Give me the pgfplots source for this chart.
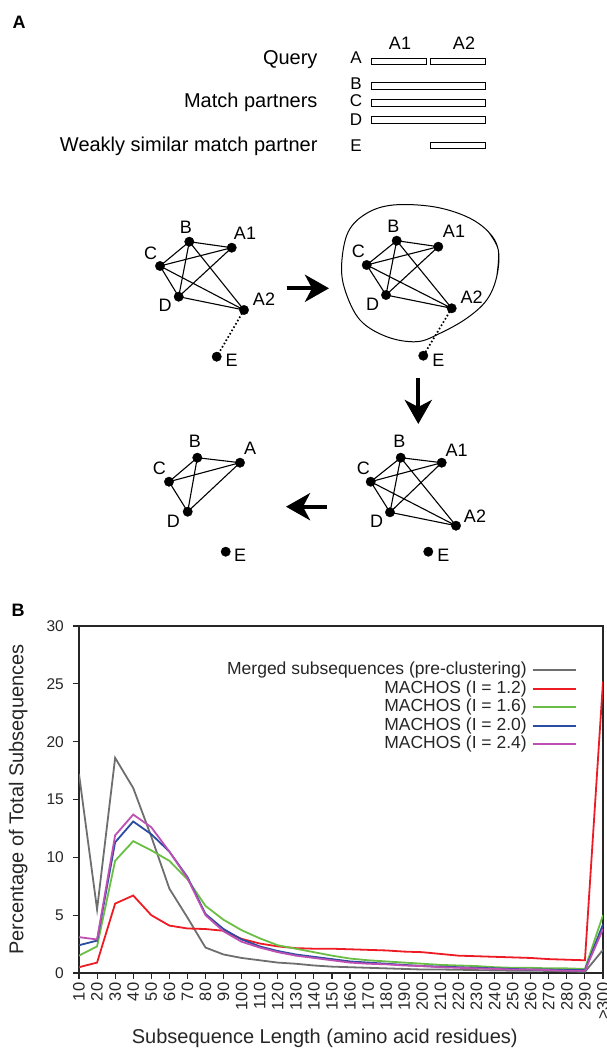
\documentclass[border=0pt]{standalone}
\usepackage{pgfplots}
\pgfplotsset{compat=1.18}
\usepackage{pgfplotstable}
\usepackage{fontspec}
\setmainfont{Liberation Sans}
\usetikzlibrary{arrows.meta}

\definecolor{cgray}{RGB}{110,110,110}
\definecolor{cred}{RGB}{237,28,36}
\definecolor{cgreen}{RGB}{106,190,69}
\definecolor{cblue}{RGB}{43,76,160}
\definecolor{cmag}{RGB}{190,80,180}

\newcommand\fsA{\fontsize{20}{23}\selectfont}
\newcommand\fsL{\fontsize{18}{21}\selectfont}
\newcommand\fsS{\fontsize{17}{20}\selectfont}
\newcommand\fsP{\bfseries\fontsize{18}{21}\selectfont}

\tikzset{
  edge/.style={draw=black, line width=1.1pt, mark=none, line join=round},
  bar/.style={draw=black, line width=1pt, fill=white, mark=none},
  dot/.style={only marks, mark=*, mark size=4.7pt, black},
  dotline/.style={draw=black, line width=1.7pt, mark=none, dash pattern=on 1.6pt off 2.2pt},
  bigarrow/.style={draw=black, line width=4pt, mark=none, -{Stealth[length=24pt,width=27pt,inset=7pt]}},
}

\pgfplotstableread{
x gray red green blue mag
0 17.2 0.5 1.5 2.4 3.1
1 5.5 0.9 2.3 2.8 2.9
2 18.6 6.0 9.7 11.3 11.9
3 16.0 6.7 11.4 13.1 13.7
4 11.8 5.0 10.6 12.0 12.6
5 7.3 4.1 9.7 10.5 10.5
6 4.8 3.85 8.1 8.3 8.2
7 2.2 3.8 5.8 5.1 5.0
8 1.6 3.65 4.6 3.8 3.6
9 1.3 2.95 3.7 2.9 2.7
10 1.1 2.55 3.0 2.3 2.2
11 0.9 2.3 2.4 1.9 1.8
12 0.8 2.15 2.1 1.6 1.5
13 0.65 2.1 1.8 1.4 1.3
14 0.55 2.1 1.5 1.2 1.1
15 0.5 2.05 1.25 1.0 0.9
16 0.45 2.0 1.1 0.9 0.8
17 0.4 1.95 1.0 0.8 0.75
18 0.35 1.85 0.9 0.7 0.65
19 0.3 1.8 0.8 0.6 0.6
20 0.3 1.65 0.7 0.55 0.5
21 0.28 1.5 0.65 0.5 0.45
22 0.25 1.45 0.6 0.45 0.4
23 0.22 1.4 0.5 0.4 0.35
24 0.2 1.35 0.45 0.35 0.3
25 0.2 1.3 0.45 0.3 0.3
26 0.18 1.2 0.4 0.3 0.25
27 0.15 1.15 0.4 0.25 0.2
28 0.1 1.1 0.35 0.25 0.2
29 2.0 25.2 5.0 4.2 3.8
}\datatable

\begin{document}
\begin{tikzpicture}
\useasboundingbox (0,0) rectangle (607pt,1049pt);
% ---------------- Panel A (pixel coordinates, y downward) ----------------
\begin{axis}[at={(0pt,0pt)}, anchor=south west, scale only axis,
  width=607pt, height=1049pt, xmin=0, xmax=607, ymin=0, ymax=1049,
  y dir=reverse, hide axis, clip=false]
% bars
\addplot[bar] coordinates {(371,58.3) (426,58.3) (426,65) (371,65)} --cycle;
\addplot[bar] coordinates {(430,58.3) (485,58.3) (485,65) (430,65)} --cycle;
\addplot[bar] coordinates {(371,82.7) (485,82.7) (485,89.3) (371,89.3)} --cycle;
\addplot[bar] coordinates {(371,99.8) (485,99.8) (485,106.2) (371,106.2)} --cycle;
\addplot[bar] coordinates {(371,117) (485,117) (485,123.4) (371,123.4)} --cycle;
\addplot[bar] coordinates {(430,142.4) (485,142.4) (485,148.6) (430,148.6)} --cycle;

% graph 1
\addplot[edge] coordinates {(231.7,247.7) (189.3,241.7) (160,266) (231.7,247.7) (178.7,296.7) (189.3,241.7) (244,310) (160,266) (178.7,296.7) (244,310)};
\addplot[dotline] coordinates {(244,310) (216.7,356.7)};
\addplot[dot] coordinates {(189.3,241.7) (231.7,247.7) (160,266) (178.7,296.7) (244,310) (216.7,356.7)};

% graph 2
\addplot[draw=black, line width=1pt, mark=none, smooth, tension=0.6] coordinates {
 (488.3,231.7) (498.3,250) (496.7,276.7) (486.7,300) (466.7,318.3) (440,333.3) (416.7,341.7)
 (386.7,336.7) (360,320) (345,290) (341.7,263.3) (348.3,231.7) (366.7,213.3) (393.3,205)
 (433.3,206.7) (466.7,216.7) (488.3,231.7) (498.3,250) (496.7,276.7)};
\addplot[edge] coordinates {(438.3,246.7) (396.7,240.7) (366.7,265) (438.3,246.7) (386,295) (396.7,240.7) (451.7,308.3) (366.7,265) (386,295) (451.7,308.3)};
\addplot[dotline] coordinates {(451.7,308.3) (423.3,355.7)};
\addplot[dot] coordinates {(396.7,240.7) (438.3,246.7) (366.7,265) (386,295) (451.7,308.3) (423.3,355.7)};

% graph 3
\addplot[edge] coordinates {(240,462.7) (197.3,457.7) (169,481.7) (240,462.7) (187.7,511.7) (197.3,457.7)};
\addplot[edge] coordinates {(169,481.7) (187.7,511.7)};
\addplot[dot] coordinates {(197.3,457.7) (240,462.7) (169,481.7) (187.7,511.7) (225.7,551.7)};

% graph 4
\addplot[edge] coordinates {(441.7,462.7) (400.7,457.7) (370.7,481.7) (441.7,462.7) (390,512.3) (400.7,457.7) (456,525.7) (370.7,481.7) (390,512.3) (456,525.7)};
\addplot[dot] coordinates {(400.7,457.7) (441.7,462.7) (370.7,481.7) (390,512.3) (456,525.7) (428.3,551.7)};

% arrows
\addplot[bigarrow] coordinates {(286.7,288.3) (329,288.3)};
\addplot[bigarrow] coordinates {(418.3,378) (418.3,424)};
\addplot[bigarrow] coordinates {(326.7,506.7) (286,506.7)};

% texts
\node[font=\fsP] at (axis cs:19,22) {A};
\node[font=\fsP] at (axis cs:18,610) {B};
\node[anchor=base east, font=\fsA] at (axis cs:321,64.5) {Query};
\node[anchor=base east, font=\fsA] at (axis cs:321,108) {Match partners};
\node[anchor=base east, font=\fsA] at (axis cs:321,151.5) {Weakly similar match partner};
\node[anchor=base, font=\fsS] at (axis cs:356,63.3) {A};
\node[anchor=base, font=\fsS] at (axis cs:356,90) {B};
\node[anchor=base, font=\fsS] at (axis cs:356,106.9) {C};
\node[anchor=base, font=\fsS] at (axis cs:356,125.8) {D};
\node[anchor=base, font=\fsS] at (axis cs:356,151.7) {E};
\node[anchor=base, font=\fsL] at (axis cs:400,50) {A1};
\node[anchor=base, font=\fsL] at (axis cs:464,50) {A2};

\node[font=\fsL] at (axis cs:186,227.3) {B};
\node[font=\fsL] at (axis cs:245,233.3) {A1};
\node[font=\fsL] at (axis cs:150.7,253.3) {C};
\node[font=\fsL] at (axis cs:165,305) {D};
\node[font=\fsL] at (axis cs:264,299.3) {A2};
\node[font=\fsL] at (axis cs:231.7,360.7) {E};

\node[font=\fsL] at (axis cs:393.3,226) {B};
\node[font=\fsL] at (axis cs:454,231.7) {A1};
\node[font=\fsL] at (axis cs:358.3,251.7) {C};
\node[font=\fsL] at (axis cs:372.7,304.3) {D};
\node[font=\fsL] at (axis cs:471.7,297.3) {A2};
\node[font=\fsL] at (axis cs:438.3,360) {E};

\node[font=\fsL] at (axis cs:195,441.7) {B};
\node[font=\fsL] at (axis cs:250,448.3) {A};
\node[font=\fsL] at (axis cs:159.3,468.3) {C};
\node[font=\fsL] at (axis cs:173.3,521.7) {D};
\node[font=\fsL] at (axis cs:240,555) {E};

\node[font=\fsL] at (axis cs:399.3,441.7) {B};
\node[font=\fsL] at (axis cs:456.7,450) {A1};
\node[font=\fsL] at (axis cs:363.3,468.3) {C};
\node[font=\fsL] at (axis cs:376.7,521.7) {D};
\node[font=\fsL] at (axis cs:475,516) {A2};
\node[font=\fsL] at (axis cs:443.3,555) {E};
\end{axis}

% ---------------- Panel B ----------------
\begin{axis}[at={(79pt,76pt)}, anchor=south west, scale only axis,
  width=524pt, height=347pt,
  xmin=0, xmax=29, ymin=0, ymax=30,
  xtick={0,...,29},
  xticklabels={10,20,30,40,50,60,70,80,90,100,110,120,130,140,150,160,170,180,190,200,210,220,230,240,250,260,270,280,290,>300},
  ytick={0,5,10,15,20,25,30},
  tick align=outside, tick pos=left, major tick length=6pt,
  axis line style={line width=1.2pt, black!85},
  tick style={line width=1.1pt, black!85},
  /pgf/number format/assume math mode=true,
  tick label style={text=black!85},
  y tick label style={font=\fontsize{15.5}{18}\selectfont, inner sep=0pt, xshift=-9pt},
  x tick label style={font=\fontsize{16.5}{19}\selectfont, rotate=90, anchor=east, inner sep=3.5pt},
  xlabel={Subsequence Length (amino acid residues)},
  ylabel={Percentage of Total Subsequences},
  label style={font=\fontsize{20}{24}\selectfont, text=black!85},
  xlabel style={at={(axis description cs:0.469,-0.187)}, anchor=center},
  ylabel style={at={(axis description cs:-0.116,0.5)}, anchor=center},
  legend cell align=right, legend plot pos=right,
  legend image code/.code={\draw[#1, line width=2pt] (0pt,0pt) -- (43pt,0pt);},
  legend style={at={(0.956,0.9035)}, anchor=north east, draw=none, fill=none,
    font=\fontsize{17.5}{19}\selectfont, text=black!85, row sep=1.5pt, column sep=5pt,
    nodes={inner sep=0pt, text height=13pt, text depth=4pt}},
  every axis plot/.append style={line width=1.8pt, mark=none},
]
\addplot[cgray] table[x=x, y=gray] {\datatable};
\addplot[cred] table[x=x, y=red] {\datatable};
\addplot[cgreen] table[x=x, y=green] {\datatable};
\addplot[cblue] table[x=x, y=blue] {\datatable};
\addplot[cmag] table[x=x, y=mag] {\datatable};
\legend{Merged subsequences (pre-clustering), MACHOS (I = 1.2), MACHOS (I = 1.6), MACHOS (I = 2.0), MACHOS (I = 2.4)}
\end{axis}
\end{tikzpicture}
\end{document}
